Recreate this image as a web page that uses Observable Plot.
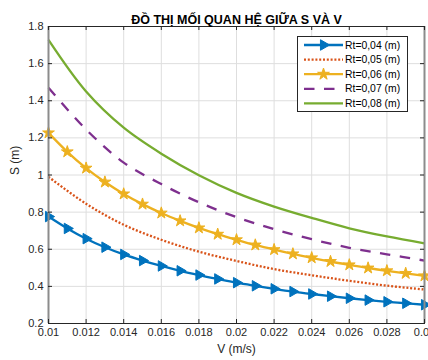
<!DOCTYPE html>
<html><head><meta charset="utf-8">
<script src="https://cdn.jsdelivr.net/npm/d3@7"></script>
<script src="https://cdn.jsdelivr.net/npm/@observablehq/plot@0.6"></script>
<style>
html,body{margin:0;padding:0;overflow:hidden;background:#fff;}
#wrap{position:relative;width:428px;height:360px;font-family:"Liberation Sans",Arial,Helvetica,sans-serif;}
#legend{position:absolute;left:297px;top:36px;}
</style></head><body><div id="wrap"></div>
<script>
// ---- data ----
const title = "ĐỒ THỊ MỐI QUAN HỆ GIỮA S VÀ V";
const xLabel = "V (m/s)";
const yLabel = "S (m)";
const seriesNames = ["Rt=0,04 (m)", "Rt=0,05 (m)", "Rt=0,06 (m)", "Rt=0,07 (m)", "Rt=0,08 (m)"];
const vFine = [0.010,0.011,0.012,0.013,0.014,0.015,0.016,0.017,0.018,0.019,0.020,0.021,0.022,0.023,0.024,0.025,0.026,0.027,0.028,0.029,0.030];
const vCoarse = [0.010,0.012,0.014,0.016,0.018,0.020,0.022,0.024,0.026,0.028,0.030];
const s004 = [0.776,0.712,0.657,0.611,0.572,0.539,0.510,0.484,0.461,0.440,0.420,0.403,0.387,0.372,0.359,0.347,0.336,0.326,0.317,0.309,0.301];
const s005 = [0.990,0.845,0.732,0.651,0.587,0.537,0.493,0.460,0.430,0.404,0.383];
const s006 = [1.227,1.125,1.037,0.962,0.898,0.843,0.795,0.753,0.715,0.681,0.651,0.623,0.598,0.575,0.554,0.534,0.516,0.499,0.484,0.470,0.457];
const s007 = [1.470,1.245,1.067,0.951,0.853,0.773,0.708,0.654,0.608,0.573,0.539];
const s008 = [1.728,1.450,1.255,1.115,0.999,0.904,0.830,0.769,0.713,0.669,0.632];
const xTicks = [0.01,0.012,0.014,0.016,0.018,0.02,0.022,0.024,0.026,0.028,0.03];
const xTickLabels = ["0.01","0.012","0.014","0.016","0.018","0.02","0.022","0.024","0.026","0.028","0.03"];
const yTicks = [0.2,0.4,0.6,0.8,1.0,1.2,1.4,1.6,1.8];
const yTickLabels = ["0.2","0.4","0.6","0.8","1","1.2","1.4","1.6","1.8"];
const xDomain = [0.01, 0.03];
const yDomain = [0.2, 1.8];

// ---- styles ----
const colors = ["#0072BD","#D95319","#EDB120","#7E2F8E","#77AC30"];
const dashes = [null, "2 1.8", null, "10.5 9.5", null];
const markers = ["triangle", null, "star", null, null];
const markerR = [3.9, 0, 3.7, 0, 0];
const lw = 2.3;

const seriesX = [vFine, vCoarse, vFine, vCoarse, vCoarse];
const seriesY = [s004, s005, s006, s007, s008];
const rows = [];
seriesNames.forEach((name, k) => {
  seriesX[k].forEach((v, i) => rows.push({name, k, v, s: seriesY[k][i]}));
});

const W = 428, H = 360, mL = 48, mR = 4, mT = 26, mB = 37;
const pw = W - mL - mR, ph = H - mT - mB;
const axisColor = "#262626";
const tickFont = 11;

const marks = [
  Plot.gridX(xTicks, {stroke: "#dedede", strokeOpacity: 1}),
  Plot.gridY(yTicks, {stroke: "#dedede", strokeOpacity: 1}),
];
seriesNames.forEach((name, k) => {
  const d = rows.filter(r => r.k === k);
  marks.push(Plot.line(d, {x: "v", y: "s", stroke: colors[k], strokeWidth: lw, strokeDasharray: dashes[k] || undefined, curve: "catmull-rom", strokeLinecap: "butt"}));
  if (markers[k]) {
    marks.push(Plot.dot(d, {x: "v", y: "s", symbol: markers[k], r: markerR[k], fill: colors[k], stroke: colors[k], strokeWidth: 1, rotate: markers[k] === "triangle" ? 90 : 0}));
  }
});
marks.push(
  Plot.frame({stroke: axisColor, strokeWidth: 1}),
  Plot.ruleX(xDomain, {x: d => d, stroke: "#8c8c8c", strokeWidth: 2}),
  Plot.ruleX(xTicks, {x: d => d, insetTop: ph - 4, stroke: axisColor}),
  Plot.ruleX(xTicks, {x: d => d, insetBottom: ph - 4, stroke: axisColor}),
  Plot.ruleY(yTicks, {y: d => d, insetRight: pw - 4, stroke: axisColor}),
  Plot.ruleY(yTicks, {y: d => d, insetLeft: pw - 4, stroke: axisColor}),
  Plot.text(xTicks, {x: d => d, text: (d, i) => xTickLabels[i], frameAnchor: "bottom", dy: 12.5, fontSize: tickFont, fill: axisColor}),
  Plot.text(yTicks, {y: d => d, text: (d, i) => yTickLabels[i], frameAnchor: "left", dx: -5, textAnchor: "end", fontSize: tickFont, fill: axisColor}),
  Plot.text([xLabel], {text: d => d, frameAnchor: "bottom", dy: 29, fontSize: 12, fill: axisColor}),
  Plot.text([yLabel], {text: d => d, frameAnchor: "left", dx: -33, rotate: -90, fontSize: 12, fill: axisColor}),
  Plot.text([title], {text: d => d, frameAnchor: "top", dy: -11, fontSize: 12.5, fontWeight: "bold", fill: "#000"})
);

const chart = Plot.plot({
  width: W, height: H,
  marginLeft: mL, marginRight: mR, marginTop: mT, marginBottom: mB,
  x: {domain: xDomain, axis: null},
  y: {domain: yDomain, axis: null},
  style: {fontFamily: "'Liberation Sans', Arial, Helvetica, sans-serif", fontSize: "11px", color: axisColor, background: "#fff", overflow: "hidden"},
  marks
});
const wrap = document.getElementById("wrap");
wrap.appendChild(chart);

// ---- legend ----
const LW = 111, LH = 76;
const leg = d3.select(wrap).append("svg").attr("id", "legend").attr("width", LW).attr("height", LH);
leg.append("rect").attr("x", 0.5).attr("y", 0.5).attr("width", LW - 1).attr("height", LH - 1).attr("fill", "#fff").attr("stroke", axisColor).attr("stroke-width", 1);
const rowY = [9, 23.6, 38.2, 52.8, 67.4];
seriesNames.forEach((name, k) => {
  const g = leg.append("g").attr("transform", `translate(0,${rowY[k]})`);
  g.append("line").attr("x1", 7).attr("x2", 46).attr("y1", 0).attr("y2", 0)
    .attr("stroke", colors[k]).attr("stroke-width", lw).attr("stroke-dasharray", dashes[k]);
  if (markers[k]) {
    const sym = markers[k] === "triangle" ? d3.symbolTriangle : d3.symbolStar;
    g.append("path").attr("d", d3.symbol(sym, Math.PI * markerR[k] * markerR[k])())
      .attr("transform", `translate(26.5,0) rotate(${markers[k] === "triangle" ? 90 : 0})`)
      .attr("fill", colors[k]).attr("stroke", colors[k]).attr("stroke-width", 1);
  }
  g.append("text").attr("x", 48).attr("y", 0).attr("dy", "0.35em")
    .attr("font-family", "'Liberation Sans', Arial, sans-serif").attr("font-size", 10.4)
    .attr("fill", "#000").text(name);
});
</script></body></html>
